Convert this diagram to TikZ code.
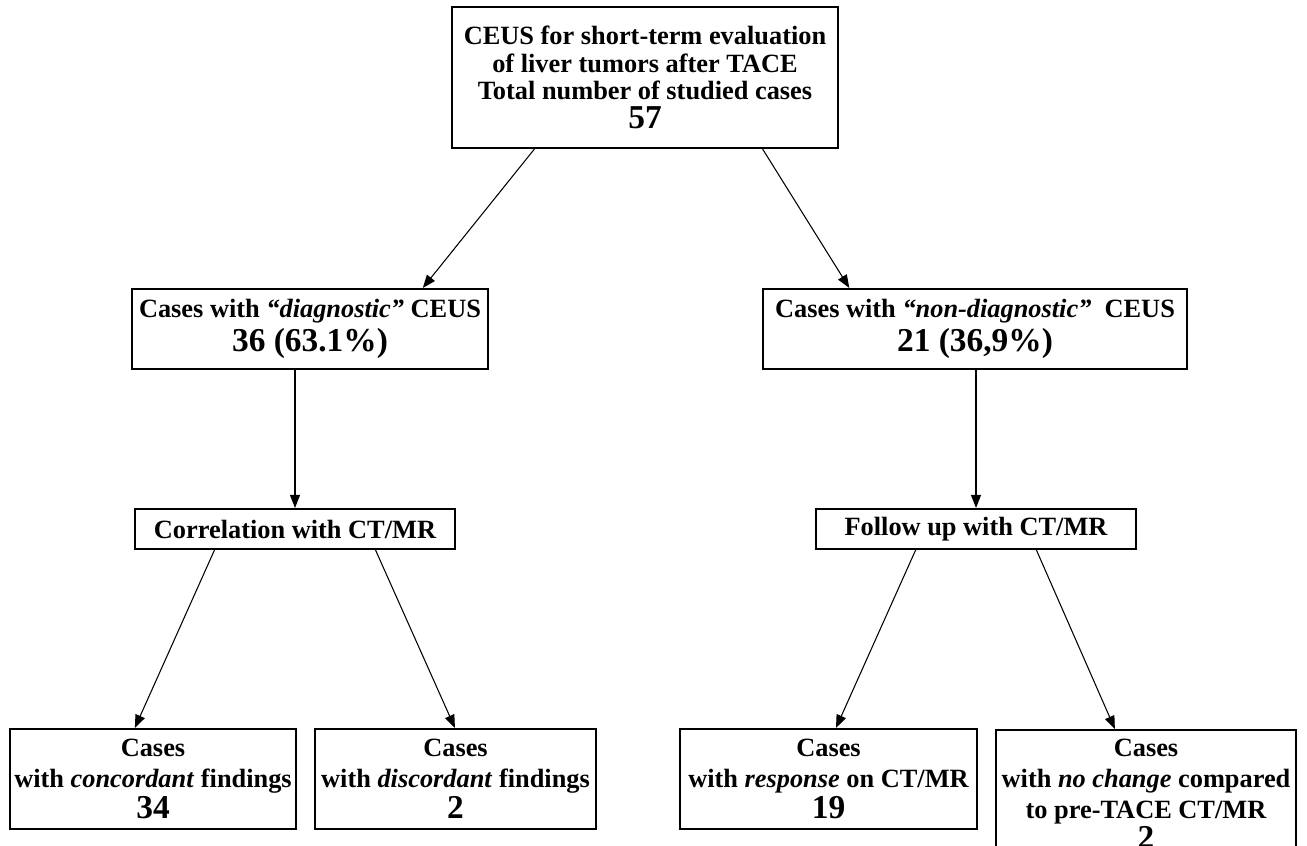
\documentclass[tikz,border=0pt]{standalone}
\usepackage{fontspec}
\setmainfont{Liberation Serif}
\usetikzlibrary{arrows.meta,positioning,calc}
\tikzset{
  flowbox/.style={draw,line width=1.2pt,align=center,inner sep=1pt,
    font=\bfseries\fontsize{15}{17.5}\selectfont},
  headbox/.style={flowbox,font=\bfseries\fontsize{15}{15.5}\selectfont},
  flowarrow/.style={-{Triangle[length=2.6mm,width=2mm]},line width=0.6pt},
}
\newcommand{\bignum}[1]{{\fontsize{19}{22}\selectfont #1}}

\begin{document}
\begin{tikzpicture}[x=0.2mm,y=-0.2mm]
  \clip (0,0) rectangle (1307,846);
  \node[headbox,minimum width=77.2mm,minimum height=28.2mm] (topbox) at (645,77.5)
    {CEUS for short-term evaluation\\of liver tumors after TACE\\Total number of studied cases\\[1pt]\bignum{57}};
  \node[flowbox,minimum width=71.2mm,minimum height=16mm] (diagbox) at (310,329)
    {Cases with \textit{``diagnostic''} CEUS\\[1.5pt]\bignum{36 (63.1\%)}};
  \node[flowbox,minimum width=84.8mm,minimum height=16mm] (nondiagbox) at (975,329)
    {Cases with \textit{``non-diagnostic''}\ \ CEUS\\[1.5pt]\bignum{21 (36,9\%)}};
  \node[flowbox,minimum width=64mm,minimum height=8mm] (corrbox) at (295,529)
    {Correlation with CT/MR};
  \node[flowbox,minimum width=64mm,minimum height=8mm] (followbox) at (976,529)
    {Follow up with CT/MR};
  % bottom row
  \node[flowbox,minimum width=57.2mm,minimum height=20mm] (concbox) at (153,779)
    {Cases\\with \textit{concordant} findings\\\bignum{34}};
  \node[flowbox,minimum width=56.2mm,minimum height=20mm] (discbox) at (455.5,779)
    {Cases\\with \textit{discordant} findings\\\bignum{2}};
  \node[flowbox,minimum width=59.4mm,minimum height=20mm] (respbox) at (828.5,779)
    {Cases\\with \textit{response} on CT/MR\\\bignum{19}};
  \node[flowbox,minimum width=60mm,minimum height=25.6mm,anchor=north] (nochbox) at (1146,729)
    {Cases\\with \textit{no change} compared\\to pre-TACE CT/MR\\\bignum{2}};
  % arrows
  \draw[flowarrow] ($(topbox.south west)!0.215!(topbox.south east)$)
    -- ($(diagbox.north west)!0.815!(diagbox.north east)$);
  \draw[flowarrow] ($(topbox.south west)!0.803!(topbox.south east)$)
    -- ($(nondiagbox.north west)!0.205!(nondiagbox.north east)$);
  \draw[flowarrow] (diagbox.south -| corrbox.north) -- (corrbox.north);
  \draw[flowarrow] (nondiagbox.south -| followbox.north) -- (followbox.north);
  \draw[flowarrow] ($(corrbox.south west)!0.25!(corrbox.south east)$)
    -- ($(concbox.north west)!0.437!(concbox.north east)$);
  \draw[flowarrow] ($(corrbox.south west)!0.75!(corrbox.south east)$)
    -- ($(discbox.north west)!0.498!(discbox.north east)$);
  \draw[flowarrow] ($(followbox.south west)!0.3125!(followbox.south east)$)
    -- ($(respbox.north west)!0.525!(respbox.north east)$);
  \draw[flowarrow] ($(followbox.south west)!0.6875!(followbox.south east)$)
    -- ($(nochbox.north west)!0.397!(nochbox.north east)$);
\end{tikzpicture}
\end{document}
